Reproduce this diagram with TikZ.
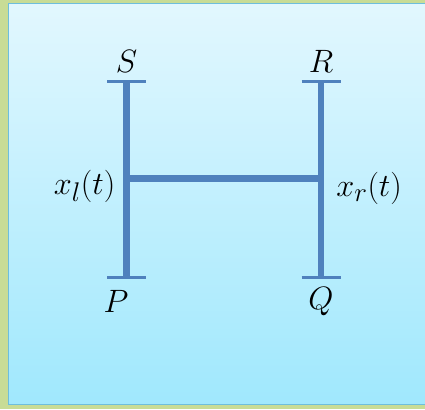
\documentclass[tikz,border=0pt]{standalone}
\usepackage{fix-cm}
\usepackage{amsmath}
\usepackage{xcolor}
\usetikzlibrary{positioning}
\definecolor{framegreen}{RGB}{200,220,150}
\definecolor{paneltop}{RGB}{226,247,254}
\definecolor{panelbottom}{RGB}{160,232,253}
\definecolor{panelline}{RGB}{110,190,220}
\definecolor{barblue}{RGB}{79,129,189}

\begin{document}
\begin{tikzpicture}[x=1pt,y=-1pt,
        bar/.style={draw=barblue, line width=6.5pt},
        capbar/.style={draw=barblue, line width=3.5pt},
        lbl/.style={inner sep=0pt, font=\fontsize{24.88}{30}\selectfont, scale=1.3, transform shape}]
        \useasboundingbox (0,0) rectangle (425,409);
        % frame and panel
        \fill[framegreen] (0,0) rectangle (425,409);
        \shade[top color=paneltop, bottom color=panelbottom, draw=panelline, line width=1.5pt]
            (8.5,3.5) rectangle (432,404.5);
        % ends of the H
        \coordinate (S-end) at (126.5,81.5);
        \coordinate (P-end) at (126.5,277.5);
        \coordinate (R-end) at (321,81.5);
        \coordinate (Q-end) at (321,277.5);
        \coordinate (l-mid) at (126.5,178.5);
        \coordinate (r-mid) at (321,178.5);
        \draw[bar] (S-end) -- (P-end);
        \draw[bar] (R-end) -- (Q-end);
        \draw[bar] (l-mid) -- (r-mid);
        \foreach \e in {S-end,P-end,R-end,Q-end}
            \draw[capbar] ([xshift=-19.5pt]\e) -- ([xshift=19.5pt]\e);
        % labels
        \node[lbl, above=9pt of S-end] (S) {$S$};
        \node[lbl, above=9pt of R-end] (R) {$R$};
        \node[lbl, below=13pt of P-end, xshift=-8pt] (P) {$P$};
        \node[lbl, below=10pt of Q-end] (Q) {$Q$};
        \node[lbl, left=11pt of l-mid, yshift=-6pt] (xl) {$x_l(t)$};
        \node[lbl, right=15pt of r-mid, yshift=-8pt] (xr) {$x_r(t)$};
\end{tikzpicture}
\end{document}
